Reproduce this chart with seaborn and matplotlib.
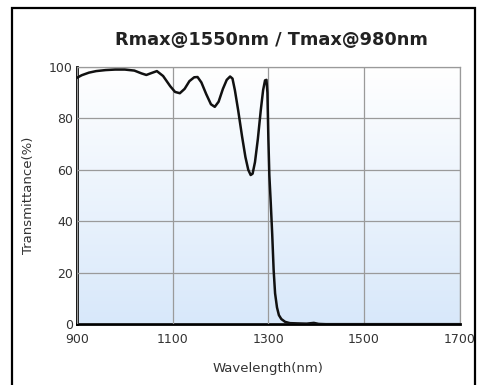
import numpy as np
import pandas as pd
import matplotlib.pyplot as plt
import seaborn as sns
from matplotlib.patches import Rectangle

# values
wavelength = [900, 910, 925, 940, 960, 980, 1000, 1020, 1035, 1045, 1055, 1067,
              1080, 1095, 1105, 1115, 1125, 1135, 1145, 1152, 1160, 1170, 1180,
              1188, 1196, 1205, 1213, 1220, 1225, 1230, 1237, 1245, 1252, 1258,
              1263, 1267, 1272, 1278, 1284, 1289, 1293, 1296, 1298, 1300, 1302,
              1305, 1308, 1311, 1314, 1318, 1322, 1327, 1335, 1345, 1360, 1380,
              1395, 1405, 1420, 1500, 1600, 1700]
transmittance = [95.8, 96.8, 97.8, 98.4, 98.8, 99.0, 99.0, 98.6, 97.5, 96.9, 97.6, 98.4,
                 96.5, 92.5, 90.3, 89.8, 91.5, 94.5, 96.0, 96.1, 94.0, 89.5, 85.5,
                 84.5, 86.5, 91.5, 95.0, 96.3, 95.5, 91.0, 83.0, 73.0, 65.0, 60.0,
                 58.0, 58.5, 63.0, 72.0, 83.0, 91.0, 94.8, 95.0, 90.0, 72.0, 58.0,
                 47.0, 35.0, 21.0, 12.0, 6.5, 3.5, 2.0, 0.9, 0.4, 0.3, 0.2,
                 0.5, 0.1, 0.0, 0.0, 0.0, 0.0]

x_ticks = [900, 1100, 1300, 1500, 1700]
y_ticks = [0, 20, 40, 60, 80, 100]

df = pd.DataFrame({"wl": wavelength, "T": transmittance})

sns.set_style("white")
fig = plt.figure(figsize=(4.84, 3.85), dpi=100)
ax = fig.add_axes([0.159, 0.158, 0.791, 0.668])

# light blue at the bottom fading to white at the top
grad = np.linspace(0, 1, 256).reshape(-1, 1)
cmap = sns.blend_palette(["#d8e8fa", "#ffffff"], as_cmap=True)
ax.imshow(grad, extent=[900, 1700, 0, 100], origin="lower", aspect="auto",
          cmap=cmap, zorder=0)

sns.lineplot(data=df, x="wl", y="T", ax=ax, color="#111111", linewidth=1.8, zorder=3)

ax.set_xlim(900, 1700)
ax.set_ylim(0, 100)
ax.set_xticks(x_ticks)
ax.set_yticks(y_ticks)
ax.grid(True, color="#9a9a9a", linewidth=0.9)
ax.set_axisbelow(False)
for line in ax.get_xgridlines() + ax.get_ygridlines():
    line.set_zorder(1)
ax.tick_params(length=0, labelsize=9, colors="#333333")
ax.tick_params(axis="x", pad=6)
ax.tick_params(axis="y", pad=3)
ax.spines["left"].set_color("black")
ax.spines["bottom"].set_color("black")
ax.spines["left"].set_linewidth(2)
ax.spines["bottom"].set_linewidth(2)
for s in ["top", "right"]:
    ax.spines[s].set_color("#9a9a9a")
    ax.spines[s].set_linewidth(0.9)

ax.set_xlabel("Wavelength(nm)", fontsize=9.5, color="#333333", labelpad=12)
ax.set_ylabel("Transmittance(%)", fontsize=9.5, color="#333333", labelpad=10)

fig.text(0.561, 0.895, "Rmax@1550nm / Tmax@980nm", ha="center", va="center",
         fontsize=12.8, fontweight="bold", color="#222222")

# outer frame
fig.patches.append(Rectangle((12 / 484, -0.1), (475 - 12) / 484, 1 - 8 / 385 + 0.1,
                             transform=fig.transFigure, fill=False,
                             edgecolor="black", linewidth=1.6))

fig.savefig("out.png", dpi=100)
